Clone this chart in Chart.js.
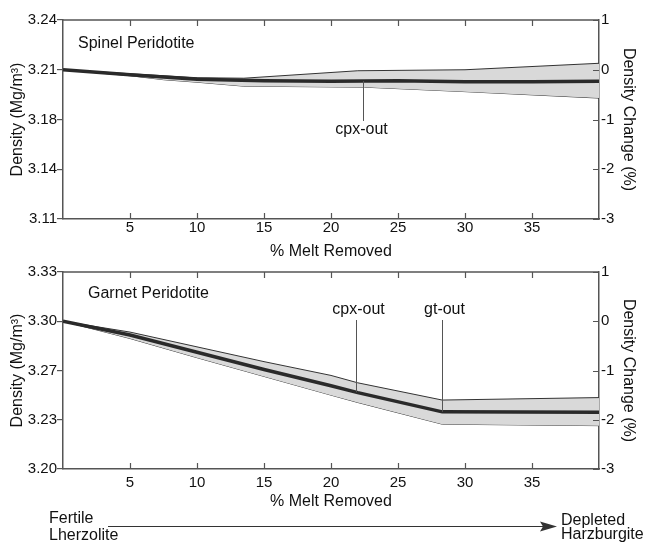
<!DOCTYPE html>
<html>
<head>
<meta charset="utf-8">
<script src="https://cdn.jsdelivr.net/npm/chart.js@4/dist/chart.umd.min.js"></script>
<style>
body { margin: 0; background: #fff; }
canvas { position: absolute; left: 0; }
#spinel { top: 0; }
#garnet { top: 260px; }
</style>
</head>
<body>
<canvas id="spinel" width="645" height="260"></canvas>
<canvas id="garnet" width="645" height="283"></canvas>
<script>
// tick labels
const X_TICKS = [5, 10, 15, 20, 25, 30, 35];
const PCT_TICKS = [-3, -2, -1, 0, 1];
const SP_DENSITY_LABELS = ['3.11', '3.14', '3.18', '3.21', '3.24'];
const GT_DENSITY_LABELS = ['3.20', '3.23', '3.27', '3.30', '3.33'];

// spinel peridotite, density change (%) vs % melt removed
const spMeanX  = [0, 5, 10, 15, 20, 25, 30, 35, 40];
const spMean   = [0, -0.10, -0.19, -0.22, -0.23, -0.22, -0.24, -0.24, -0.23];
const spUpperX = [0, 5, 10, 13.5, 22, 30, 40];
const spUpper  = [0, -0.08, -0.16, -0.17, -0.02, 0.0, 0.13];
const spLowerX = [0, 5, 7.5, 10, 13.5, 22.5, 30, 40];
const spLower  = [0, -0.12, -0.20, -0.25, -0.33, -0.35, -0.44, -0.57];
const spMarkX    = [22.4];
const spMarkText = ['cpx-out'];

// garnet peridotite
const gtX     = [0, 5, 10, 15, 20, 22, 28.3, 40];
const gtMean  = [0, -0.28, -0.63, -0.98, -1.31, -1.45, -1.84, -1.85];
const gtUpper = [0, -0.22, -0.52, -0.82, -1.10, -1.25, -1.60, -1.55];
const gtLower = [0, -0.35, -0.74, -1.12, -1.50, -1.65, -2.09, -2.12];
const gtMarkX    = [21.9, 28.3];
const gtMarkText = ['cpx-out', 'gt-out'];

const INK = '#111';
const AXIS = '#555';
const FONT = "'Liberation Sans', Arial, Helvetica, sans-serif";
Chart.defaults.font.family = FONT;

const pts = (xs, ys) => xs.map((x, i) => ({x: x, y: ys[i]}));

function interp(xs, ys, v) {
    for (let i = 1; i < xs.length; i++) {
        if (v <= xs[i]) {
            const t = (v - xs[i - 1]) / (xs[i] - xs[i - 1]);
            return ys[i - 1] + t * (ys[i] - ys[i - 1]);
        }
    }
    return ys[ys.length - 1];
}

// mean first so it is drawn last (on top); upper fills down to lower
function datasets(mx, my, ux, uy, lx, ly) {
    return [
        { data: pts(mx, my), borderColor: '#2a2a2a', borderWidth: 3.5, fill: false, pointRadius: 0, tension: 0 },
        { data: pts(ux, uy), borderColor: '#333', borderWidth: 1, backgroundColor: '#d9d9d9', fill: '+1', pointRadius: 0, tension: 0 },
        { data: pts(lx, ly), borderColor: '#333', borderWidth: 1, fill: false, pointRadius: 0, tension: 0 }
    ];
}

// frame, inward ticks, panel name, markers, arrow
const decor = {
    id: 'decor',
    afterDatasetsDraw(chart, args, o) {
        const ctx = chart.ctx;
        const a = chart.chartArea;
        const x = chart.scales.x, y = chart.scales.y;
        ctx.save();
        ctx.strokeStyle = AXIS;
        ctx.lineWidth = 1.2;
        ctx.beginPath();
        for (const v of X_TICKS) {
            const px = Math.round(x.getPixelForValue(v)) + 0.5;
            ctx.moveTo(px, a.bottom); ctx.lineTo(px, a.bottom - 6);
            ctx.moveTo(px, a.top); ctx.lineTo(px, a.top + 6);
        }
        for (const v of PCT_TICKS) {
            const py = Math.round(y.getPixelForValue(v)) + 0.5;
            ctx.moveTo(a.right, py); ctx.lineTo(a.right - 6, py);
        }
        ctx.stroke();
        ctx.lineWidth = 1.5;
        ctx.beginPath();
        ctx.moveTo(a.left, a.top); ctx.lineTo(a.right, a.top);
        ctx.stroke();

        ctx.fillStyle = INK;
        ctx.font = '16px ' + FONT;
        ctx.textBaseline = 'alphabetic';
        ctx.textAlign = 'left';
        ctx.fillText(o.name, a.left + o.nameDx, a.top + o.nameDy);

        ctx.strokeStyle = '#555';
        ctx.lineWidth = 1;
        ctx.textAlign = 'center';
        o.markX.forEach((m, i) => {
            const px = Math.round(x.getPixelForValue(m)) + 0.5;
            const py = y.getPixelForValue(interp(o.meanX, o.mean, m));
            ctx.beginPath();
            if (o.below) {
                ctx.moveTo(px, py); ctx.lineTo(px, py + 40);
                ctx.stroke();
                ctx.fillText(o.markText[i], px - 2, py + 53);
            } else {
                const top = a.top + 48;
                ctx.moveTo(px, top); ctx.lineTo(px, py);
                ctx.stroke();
                ctx.fillText(o.markText[i], px + 2, top - 6.5);
            }
        });

        if (o.arrow) {
            const ay = chart.height - 16.5;
            ctx.strokeStyle = '#333';
            ctx.lineWidth = 1;
            ctx.beginPath();
            ctx.moveTo(108, ay); ctx.lineTo(545, ay);
            ctx.stroke();
            ctx.fillStyle = '#333';
            ctx.beginPath();
            ctx.moveTo(557, ay); ctx.lineTo(540, ay - 5); ctx.lineTo(543, ay); ctx.lineTo(540, ay + 5);
            ctx.closePath();
            ctx.fill();
            ctx.fillStyle = INK;
            ctx.textAlign = 'left';
            ctx.fillText('Fertile', 49, ay - 4);
            ctx.fillText('Lherzolite', 49, ay + 13);
            ctx.fillText('Depleted', 561, ay - 1.5);
            ctx.fillText('Harzburgite', 561, ay + 12.5);
        }
        ctx.restore();
    }
};

function makeOptions(leftLabels, pad, xPad, decorOpts) {
    return {
        responsive: false,
        animation: false,
        devicePixelRatio: 1,
        layout: { padding: pad },
        plugins: {
            legend: { display: false },
            tooltip: { enabled: false },
            decor: decorOpts
        },
        scales: {
            x: {
                type: 'linear', min: 0, max: 40,
                afterBuildTicks: s => { s.ticks = X_TICKS.map(v => ({value: v})); },
                afterFit: s => { s.height = 41; },
                grid: { display: false, drawTicks: false },
                border: { color: AXIS, width: 1.5 },
                ticks: { color: INK, font: { size: 15 }, padding: xPad, maxRotation: 0 },
                title: { display: true, text: '% Melt Removed', color: INK, font: { size: 16, lineHeight: 1 }, padding: 0 }
            },
            y: {
                position: 'left', min: -3, max: 1,
                afterBuildTicks: s => { s.ticks = PCT_TICKS.map(v => ({value: v})); },
                afterFit: s => { s.width = 63; },
                grid: { drawOnChartArea: false, drawTicks: true, tickLength: 6, color: AXIS, lineWidth: 1.2 },
                border: { color: AXIS, width: 1.5 },
                ticks: { color: INK, font: { size: 15 }, padding: 0, callback: v => leftLabels[PCT_TICKS.indexOf(v)] },
                title: { display: true, text: 'Density (Mg/m³)', color: INK, font: { size: 16 }, padding: { top: 8 } }
            },
            y2: {
                position: 'right', min: -3, max: 1,
                afterBuildTicks: s => { s.ticks = PCT_TICKS.map(v => ({value: v})); },
                afterFit: s => { s.width = 46; },
                grid: { display: false, drawTicks: false },
                border: { color: AXIS, width: 1.5 },
                ticks: { color: INK, font: { size: 15 }, padding: 2, callback: v => String(v) },
                title: { display: true, text: 'Density Change (%)', color: INK, font: { size: 16 }, padding: { top: 7 } }
            }
        }
    };
}

new Chart(document.getElementById('spinel'), {
    type: 'line',
    data: { datasets: datasets(spMeanX, spMean, spUpperX, spUpper, spLowerX, spLower) },
    options: makeOptions(SP_DENSITY_LABELS, { top: 20, left: 0, right: 0, bottom: 0 }, 0, {
        name: 'Spinel Peridotite', nameDx: 15, nameDy: 27.5,
        markX: spMarkX, markText: spMarkText, meanX: spMeanX, mean: spMean, below: true, arrow: false
    }),
    plugins: [decor]
});

new Chart(document.getElementById('garnet'), {
    type: 'line',
    data: { datasets: datasets(gtX, gtMean, gtX, gtUpper, gtX, gtLower) },
    options: makeOptions(GT_DENSITY_LABELS, { top: 12, left: 0, right: 0, bottom: 33 }, 5, {
        name: 'Garnet Peridotite', nameDx: 25, nameDy: 26,
        markX: gtMarkX, markText: gtMarkText, meanX: gtX, mean: gtMean, below: false, arrow: true
    }),
    plugins: [decor]
});
</script>
</body>
</html>
